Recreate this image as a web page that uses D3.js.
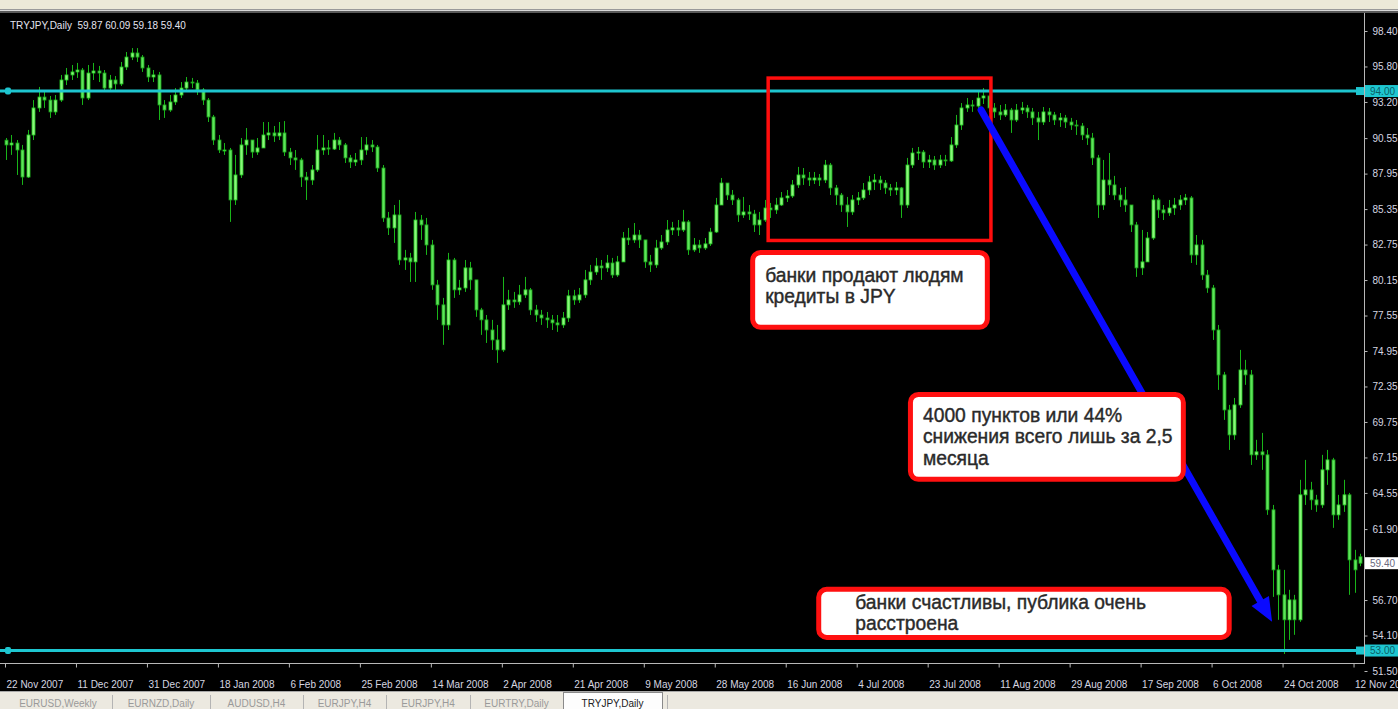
<!DOCTYPE html>
<html><head><meta charset="utf-8">
<script src="https://cdn.jsdelivr.net/npm/d3@7"></script>
<style>
html,body{margin:0;padding:0;background:#000;overflow:hidden}
svg{display:block}
text{font-family:"Liberation Sans",Arial,sans-serif}
</style></head><body>
<svg id="c" width="1398" height="709"></svg>
<script>
const symbol = "TRYJPY,Daily";
const lastOHLC = [59.87, 60.09, 59.18, 59.40];
const firstOpen = 90.40;

const closes = [
90.05,90.19,89.68,87.70,90.78,92.76,93.56,93.34,92.47,93.34,
94.81,95.18,95.40,95.54,93.49,95.32,95.47,95.32,94.22,94.81,
94.52,95.76,96.49,96.79,96.49,95.69,95.03,95.18,92.98,92.61,
93.20,93.71,94.22,94.66,94.59,94.08,93.34,92.10,90.41,89.68,
89.68,86.02,87.85,90.05,90.41,89.53,89.83,90.78,90.93,90.71,
90.93,89.53,89.10,88.95,87.70,87.48,88.22,89.68,89.83,89.75,
90.41,90.05,89.10,88.80,88.95,89.68,90.05,89.90,88.36,84.70,
83.97,84.92,81.62,81.77,81.48,84.55,84.19,82.72,79.79,78.33,
76.86,81.62,79.43,79.57,81.04,80.16,77.96,77.23,76.49,75.76,
75.03,78.33,78.69,78.55,79.06,79.43,77.96,77.59,77.37,77.23,
77.01,76.86,77.37,78.99,78.69,79.06,80.16,80.74,81.18,81.04,
81.40,80.52,81.48,83.23,83.09,83.45,83.09,81.48,81.26,82.50,
82.94,83.82,83.97,83.82,84.41,82.36,82.72,82.50,82.80,83.67,
85.65,87.26,86.38,86.02,84.92,85.14,84.99,84.19,84.55,85.43,
85.29,85.65,86.17,86.31,87.12,87.85,87.63,87.48,87.63,87.48,
88.58,86.90,86.38,85.65,85.14,86.02,86.17,86.75,87.34,87.48,
87.26,86.90,86.75,86.90,85.65,88.58,89.46,89.53,88.80,88.95,
88.58,88.95,88.88,90.05,91.51,92.76,92.98,92.90,93.49,93.64,
92.76,92.47,92.25,92.61,91.88,92.61,92.76,92.47,92.03,91.73,
92.47,92.25,91.88,92.03,91.73,91.51,91.44,90.78,90.56,89.10,
85.65,87.48,87.12,86.38,86.02,85.65,84.19,81.04,81.48,83.23,
86.02,85.29,85.07,85.43,85.65,86.02,86.17,81.99,82.72,80.52,
79.57,76.49,73.20,70.63,68.80,71.00,73.56,73.20,67.34,67.56,
67.34,63.31,58.91,57.08,55.25,56.71,55.25,64.41,64.77,64.04,
63.67,66.24,66.97,62.94,63.67,64.41,59.64,58.91,59.40];

const highs = [
90.56,90.78,90.41,90.05,91.15,93.34,94.30,93.93,93.64,93.71,
95.18,95.69,95.91,96.06,95.69,95.91,96.06,95.84,95.54,95.18,
95.10,96.13,96.86,97.15,97.15,96.64,95.91,95.54,95.40,93.34,
93.71,94.22,94.66,95.03,94.96,94.81,94.22,93.49,92.25,90.78,
90.19,89.83,89.32,90.56,91.29,90.41,90.56,91.73,91.73,91.44,
91.73,91.80,89.83,89.68,89.10,88.07,88.58,90.78,90.78,90.41,
90.93,90.63,90.19,89.32,89.46,90.63,90.63,90.41,90.05,88.58,
85.14,85.65,86.02,82.36,82.14,85.14,84.92,84.70,83.09,80.16,
78.84,82.14,81.77,80.16,81.62,81.48,79.79,78.11,77.59,77.23,
76.86,80.38,79.43,79.28,79.79,80.38,79.57,78.33,77.96,77.81,
77.59,77.59,77.81,79.43,79.43,79.57,80.89,81.26,81.77,81.62,
81.99,81.77,81.92,83.67,83.97,84.33,83.82,83.09,81.99,83.09,
83.45,84.55,84.41,84.55,85.29,84.55,83.23,83.09,83.23,83.97,
86.17,87.63,87.26,86.75,86.17,86.24,85.65,85.29,85.14,86.02,
85.80,86.17,86.60,86.75,87.48,88.44,88.36,88.07,88.07,87.92,
88.95,88.73,87.12,86.53,86.24,86.38,86.60,87.26,87.78,87.92,
87.78,87.48,87.19,87.34,86.97,89.10,89.83,89.90,89.68,89.32,
89.24,89.32,89.32,90.63,92.25,93.12,93.49,93.34,93.93,94.22,
93.56,93.12,92.98,93.05,92.76,93.05,93.20,92.98,92.76,92.47,
92.83,92.76,92.47,92.39,92.25,92.03,91.88,91.66,91.29,90.93,
89.32,88.95,89.46,87.78,86.90,86.97,85.65,84.41,83.82,83.67,
86.38,86.17,85.65,86.02,86.17,86.38,86.46,86.31,83.45,83.09,
80.89,79.79,76.86,73.42,71.00,71.51,75.03,74.30,73.56,68.44,
68.95,67.70,63.67,59.28,58.91,57.45,57.08,65.51,66.97,65.36,
64.41,67.34,67.70,67.12,64.41,65.51,64.55,60.38,60.09];

const lows = [
88.95,89.32,87.85,87.12,87.63,90.41,92.47,92.76,92.03,92.25,
93.20,94.44,94.81,94.96,92.98,93.34,94.81,94.66,93.93,94.08,
94.08,94.37,95.54,96.27,96.13,95.40,94.66,94.66,91.88,92.03,
92.47,92.98,93.49,94.08,94.22,93.71,92.98,91.73,90.05,89.46,
89.32,84.41,85.65,87.63,89.32,89.10,89.32,90.05,90.41,90.27,
90.41,89.24,88.58,88.22,86.97,86.02,87.12,88.07,89.32,89.32,
89.68,89.68,88.73,88.36,88.51,88.58,89.32,89.53,88.07,84.41,
83.45,82.87,81.26,80.89,80.01,80.01,83.09,81.99,79.43,77.23,
75.40,76.49,78.84,79.06,79.28,79.43,77.45,76.13,75.54,75.03,
74.08,74.88,77.96,78.11,78.33,78.84,77.59,77.08,76.86,76.64,
76.49,76.35,76.64,77.08,78.33,78.47,78.84,79.79,80.52,80.16,
80.74,80.30,80.38,81.48,82.72,82.87,82.50,81.04,80.74,81.04,
82.36,82.72,83.45,83.38,83.67,81.99,82.21,82.14,82.36,82.65,
83.60,85.65,86.02,85.65,84.41,84.70,84.55,83.67,83.45,84.41,
84.70,84.99,85.58,85.87,86.17,86.90,87.12,87.04,87.19,87.04,
87.26,86.38,85.65,85.14,84.04,84.92,85.65,86.02,86.38,86.75,
86.75,86.46,86.31,86.38,84.70,85.43,88.36,88.95,88.36,88.36,
88.22,88.36,88.51,88.80,89.83,91.15,92.47,92.47,92.76,93.05,
92.47,92.03,91.88,92.10,90.93,91.73,92.32,92.03,91.51,90.41,
91.51,91.73,91.51,91.37,91.29,91.15,90.78,90.41,90.05,88.58,
84.70,85.29,86.38,86.02,85.51,85.14,83.67,80.38,80.52,82.21,
83.09,84.70,84.55,84.85,84.92,85.29,85.65,81.40,81.26,80.16,
79.21,75.76,72.10,69.90,67.70,68.44,70.78,72.47,66.60,66.97,
66.24,62.94,56.93,55.25,52.75,53.78,54.15,55.10,63.67,63.31,
63.16,63.45,65.14,61.99,62.58,63.16,57.08,57.23,59.18];

const dateTicks = ["22 Nov 2007","11 Dec 2007","31 Dec 2007","18 Jan 2008","6 Feb 2008",
"25 Feb 2008","14 Mar 2008","2 Apr 2008","21 Apr 2008","9 May 2008","28 May 2008",
"16 Jun 2008","4 Jul 2008","23 Jul 2008","11 Aug 2008","29 Aug 2008","17 Sep 2008",
"6 Oct 2008","24 Oct 2008","12 Nov 2008"];
const barsPerDateTick = 13;
const priceTicks = [98.40,95.80,93.20,90.55,87.95,85.35,82.75,80.15,77.55,74.95,72.35,
69.75,67.15,64.55,61.90,56.70,54.10,51.50];
const levels = [94.00, 53.00];
const tabs = ["EURUSD,Weekly","EURNZD,Daily","AUDUSD,H4","EURJPY,H4","EURJPY,H4","EURTRY,Daily","TRYJPY,Daily"];
const activeTab = "TRYJPY,Daily";
const zoneStart = 139.6, zoneEnd = 180.4;        // bar indices of the red box
const zoneLow = 83.05, zoneHigh = 94.95;         // prices of the red box
const arrowFrom = [178.6, 92.61], arrowTo = [231.9, 55.10]; // [bar, price]
const notes = [
  {lines:["банки продают людям","кредиты в JPY"], bar0:136.3, bar1:180.2, p0:82.36, p1:76.50, indent:15, first:32},
  {lines:["4000 пунктов или 44%","снижения всего лишь за 2,5","месяца"], bar0:165.2, bar1:216.1, p0:71.95, p1:65.36, indent:15, first:30},
  {lines:["банки счастливы, публика очень","расстроена"], bar0:148.4, bar1:224.5, p0:57.67, p1:53.78, indent:39, first:22}
];

const W = 1398, H = 709;
const plotL = 0, plotR = 1364, plotT = 13, plotB = 663;
const svg = d3.select("#c");
const x = d3.scaleLinear().domain([0, closes.length - 1]).range([6, 1360]);
const y = d3.scaleLinear().domain([51.50, 98.40]).range([671, 31]);

// backgrounds
svg.append("rect").attr("x",0).attr("y",0).attr("width",W).attr("height",H).attr("fill","#000");
svg.append("rect").attr("x",0).attr("y",0).attr("width",W).attr("height",9).attr("fill","#ece9d8");
svg.append("rect").attr("x",0).attr("y",9).attr("width",W).attr("height",1).attr("fill","#9a9a9a");
svg.append("rect").attr("x",0).attr("y",10).attr("width",W).attr("height",1).attr("fill","#d8d8d8");
svg.append("rect").attr("x",0).attr("y",11).attr("width",W).attr("height",2).attr("fill","#5a5a5a");

// clip
svg.append("clipPath").attr("id","pc").append("rect")
  .attr("x",plotL).attr("y",plotT).attr("width",plotR-plotL).attr("height",plotB-plotT);
const plot = svg.append("g").attr("clip-path","url(#pc)");

// candles
const bars = closes.map((c,i)=>{
  const o = i === closes.length-1 ? lastOHLC[0] : (i === 0 ? firstOpen : closes[i-1]);
  return {i, o, c, h: Math.max(highs[i], o, c), l: Math.min(lows[i], o, c)};
});
const cg = plot.append("g");
cg.selectAll("line.w").data(bars).join("line").attr("class","w")
  .attr("x1",d=>Math.round(x(d.i))+0.5).attr("x2",d=>Math.round(x(d.i))+0.5)
  .attr("y1",d=>y(d.h)).attr("y2",d=>y(d.l))
  .attr("stroke","#19b419").attr("stroke-width",1);
cg.selectAll("rect.b").data(bars).join("rect").attr("class","b")
  .attr("x",d=>Math.round(x(d.i))-1)
  .attr("y",d=>y(Math.max(d.o,d.c)))
  .attr("width",3)
  .attr("height",d=>Math.max(1, Math.abs(y(d.o)-y(d.c))))
  .attr("fill",d=>d.c>=d.o ? "#8cf57c" : "#5ee35a")
  .attr("stroke",d=>d.c>=d.o ? "#22cc22" : "#1aa81a").attr("stroke-width",0.8);

// horizontal levels
levels.forEach(v=>{
  plot.append("line").attr("x1",0).attr("x2",plotR).attr("y1",y(v)).attr("y2",y(v))
    .attr("stroke","#1ec6d0").attr("stroke-width",3);
  plot.append("rect").attr("x",5).attr("y",y(v)-3.5).attr("width",6).attr("height",7).attr("rx",2).attr("fill","#1ec6d0");
  plot.append("rect").attr("x",plotR-8).attr("y",y(v)-4).attr("width",8).attr("height",8).attr("fill","#1ec6d0");
});

// red zone box
svg.append("rect")
  .attr("x",x(zoneStart)).attr("y",y(zoneHigh))
  .attr("width",x(zoneEnd)-x(zoneStart)).attr("height",y(zoneLow)-y(zoneHigh))
  .attr("fill","none").attr("stroke","#ff0d0d").attr("stroke-width",3.5);

// blue arrow
{
  const x1 = x(arrowFrom[0]), y1 = y(arrowFrom[1]), x2 = x(arrowTo[0]), y2 = y(arrowTo[1]);
  const dx = x2-x1, dy = y2-y1, L = Math.hypot(dx,dy), ux = dx/L, uy = dy/L;
  const hl = 24, hw = 10;
  const bx = x2-ux*hl, by = y2-uy*hl;
  svg.append("line").attr("x1",x1).attr("y1",y1).attr("x2",bx).attr("y2",by)
    .attr("stroke","#0a0aff").attr("stroke-width",7).attr("stroke-linecap","round");
  svg.append("path").attr("d",`M${x2},${y2}L${bx-uy*hw},${by+ux*hw}L${bx+uy*hw},${by-ux*hw}Z`)
    .attr("fill","#0a0aff");
}

// annotation boxes
notes.forEach(n=>{
  const bx0 = x(n.bar0), bx1 = x(n.bar1), by0 = y(n.p0), by1 = y(n.p1);
  const g = svg.append("g");
  g.append("rect").attr("x",bx0+2.5).attr("y",by0+2.5).attr("width",bx1-bx0-5).attr("height",by1-by0-5)
    .attr("rx",8).attr("fill","#ffffff").attr("stroke","#ff1010").attr("stroke-width",5);
  n.lines.forEach((s,k)=>{
    g.append("text").attr("x",bx0 + n.indent).attr("y",by0 + n.first + k*21.5).text(s)
      .attr("font-size",19.3).attr("fill","#2a2a2a").attr("stroke","#2a2a2a").attr("stroke-width",0.4);
  });
});

// frame lines
svg.append("line").attr("x1",plotR+0.5).attr("x2",plotR+0.5).attr("y1",plotT).attr("y2",plotB)
  .attr("stroke","#b8b8b8").attr("stroke-width",1);
svg.append("line").attr("x1",0).attr("x2",plotR+1).attr("y1",plotB+0.5).attr("y2",plotB+0.5)
  .attr("stroke","#b8b8b8").attr("stroke-width",1);

// right price axis
const ya = svg.append("g").attr("transform",`translate(${plotR+0.5},0)`)
  .call(d3.axisRight(y).tickValues(priceTicks).tickFormat(d3.format(".2f")).tickSize(3).tickPadding(5));
ya.select(".domain").remove();
ya.selectAll("line").attr("stroke","#b8b8b8");
ya.selectAll("text").attr("fill","#d6d6e0").attr("font-size",10)
  .attr("font-family","'Liberation Sans',Arial,sans-serif");

// level labels
levels.forEach(v=>{
  svg.append("rect").attr("x",plotR+1).attr("y",y(v)-6).attr("width",W-plotR-1).attr("height",12).attr("fill","#1ec6d0");
  svg.append("text").attr("x",plotR+6).attr("y",y(v)).attr("dy","0.35em").text(d3.format(".2f")(v))
    .attr("font-size",10).attr("fill","#0b5f66");
});
// current price label
svg.append("rect").attr("x",plotR+1).attr("y",y(lastOHLC[3])-6).attr("width",W-plotR-1).attr("height",12).attr("fill","#ffffff");
svg.append("text").attr("x",plotR+6).attr("y",y(lastOHLC[3])).attr("dy","0.35em").text(d3.format(".2f")(lastOHLC[3]))
  .attr("font-size",10).attr("fill","#6a6a80");

// bottom date axis
const tickIdx = dateTicks.map((d,k)=>k*barsPerDateTick);
const xa = svg.append("g").attr("transform",`translate(0,${plotB+0.5})`)
  .call(d3.axisBottom(x).tickValues(tickIdx).tickFormat((d,k)=>dateTicks[k]).tickSize(4));
xa.select(".domain").remove();
xa.selectAll("line").attr("stroke","#b8b8b8").attr("transform","translate(-1,0)");
xa.selectAll("text").attr("fill","#d6d6e0").attr("font-size",10).attr("text-anchor","start")
  .attr("x",0).attr("y",21).attr("dy","0.35em")
  .attr("font-family","'Liberation Sans',Arial,sans-serif");

// title
svg.append("text").attr("x",10).attr("y",29).text(`${symbol}  ${lastOHLC.map(d3.format(".2f")).join(" ")}`)
  .attr("font-size",10).attr("fill","#e4e4f0").style("white-space","pre");

// tab bar
svg.append("rect").attr("x",0).attr("y",691).attr("width",W).attr("height",18).attr("fill","#ece9e0");
svg.append("rect").attr("x",0).attr("y",691).attr("width",W).attr("height",1).attr("fill","#a8a8a8");
const tabX = [4,112,210,303,386,470,563,662];
tabs.forEach((t,k)=>{
  const active = t === activeTab && k === tabs.length-1;
  if (active) {
    svg.append("rect").attr("x",tabX[k]+0.5).attr("y",692.5).attr("width",tabX[k+1]-tabX[k]).attr("height",20)
      .attr("fill","#fdfdfd").attr("stroke","#8a8a8a");
  } else {
    svg.append("line").attr("x1",tabX[k+1]+0.5).attr("x2",tabX[k+1]+0.5).attr("y1",695).attr("y2",709)
      .attr("stroke","#b4b4b4");
  }
  svg.append("text").attr("x",(tabX[k]+tabX[k+1])/2).attr("y",707).attr("text-anchor","middle").text(t)
    .attr("font-size",10).attr("fill",active ? "#202020" : "#9a9a9a");
});
svg.append("line").attr("x1",667.5).attr("x2",667.5).attr("y1",695).attr("y2",709).attr("stroke","#b4b4b4");
</script>
</body></html>
